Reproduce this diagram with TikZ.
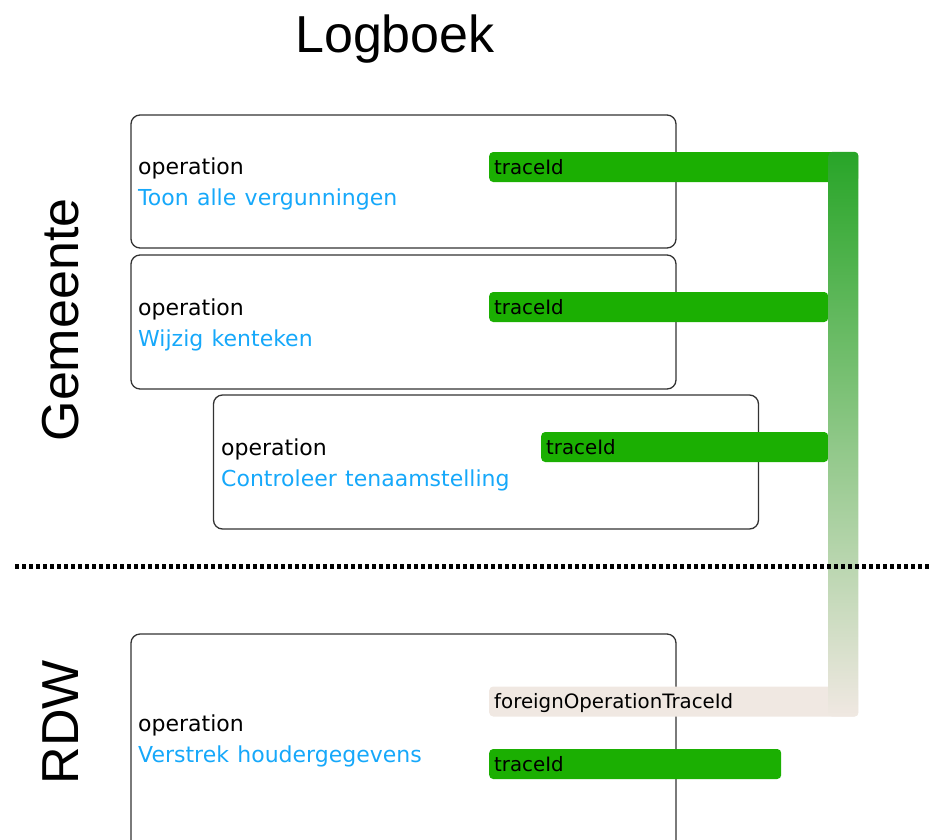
\documentclass[tikz,border=0pt]{standalone}
\usepackage{fontspec}
\setmainfont{DejaVu Sans}
\newfontfamily\headfont{Liberation Sans}
\usetikzlibrary{calc}

\definecolor{traceGreen}{RGB}{27,175,2}
\definecolor{foreignBeige}{RGB}{240,232,226}
\definecolor{opBlue}{RGB}{22,168,250}
\newcommand\widespace{\spaceskip=0.38em\relax}

\tikzset{
  opbox/.style={draw=black!80, line width=1.3pt, rounded corners=9pt, minimum width=545pt, inner sep=0pt},
  optext/.style={anchor=west, align=left, inner sep=0pt, font=\fontsize{22}{31}\selectfont\widespace},
  tracebar/.style={fill=traceGreen, rounded corners=4pt, anchor=west, minimum height=30pt,
    inner xsep=5pt, inner ysep=0pt, text width=#1, align=left, text height=15pt, text depth=1pt,
    font=\fontsize{19.8}{22}\selectfont},
  bigtext/.style={font=\headfont\fontsize{52}{60}\selectfont, anchor=base}
}

\begin{document}
\begin{tikzpicture}[x=1pt,y=-1pt]
            \useasboundingbox (0,0) rectangle (929,839);
            \clip (0,0) rectangle (929,839);

            % Titles
            \node[bigtext] (title) at (395,52) {Logboek};
            \node[bigtext, rotate=90] (gem) at (78,320) {Gemeente};
            \node[bigtext, rotate=90] (rdw) at (78,722) {RDW};

            % The operation boxes
            \node[opbox, minimum height=133pt] (b1) at (403.5,181.5) {};
            \node[opbox, minimum height=134pt] (b2) at (403.5,322) {};
            \node[opbox, minimum height=134pt] (b3) at (486,462) {};
            \node[opbox, minimum height=240pt] (b4) at (403.5,754) {};

            \node[optext] (o1) at (138,184) {operation\\\textcolor{opBlue}{Toon alle vergunningen}};
            \node[optext] (o2) at (138,324.5) {operation\\\textcolor{opBlue}{Wijzig kenteken}};
            \node[optext] (o3) at (221,464.5) {operation\\\textcolor{opBlue}{Controleer tenaamstelling}};
            \node[optext] (o4) at (138,740.5) {operation\\\textcolor{opBlue}{Verstrek houdergegevens}};

            % The trace bars
            \node[tracebar=359pt] (t1) at (489,167) {traceId};
            \node[tracebar=329pt] (t2) at (489,307) {traceId};
            \node[tracebar=277pt] (t3) at (541,447) {traceId};
            \node[tracebar=359pt, fill=foreignBeige] (fo) at (489,701.5) {foreignOperationTraceId};
            \node[tracebar=282pt] (t4) at (489,764) {traceId};

            % The link between them
            \shade[top color={rgb,255:red,40;green,165;blue,40}, middle color={rgb,255:red,172;green,205;blue,156},
              bottom color=foreignBeige, rounded corners=4pt]
              ($(t1.north east)+(-30,0)$) rectangle (fo.south east);

            % Separator
            \coordinate (sepL) at (15,566);
            \coordinate (sepR) at (929,566);
            \draw[line width=5pt, dash pattern=on 4pt off 3pt] (sepL) -- (sepR);
        \end{tikzpicture}
\end{document}
